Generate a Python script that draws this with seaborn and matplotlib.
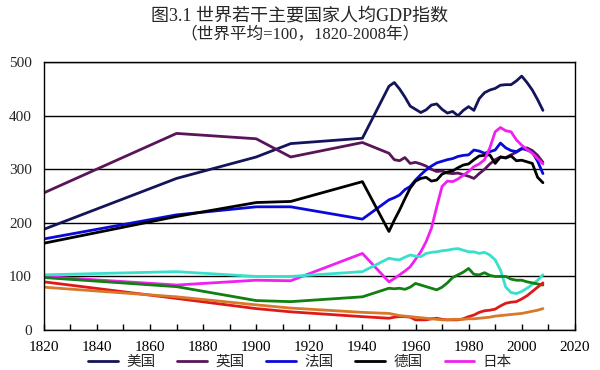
import pandas as pd
import seaborn as sns
import matplotlib
matplotlib.use("Agg")
from matplotlib import pyplot as plt
from matplotlib.ticker import MultipleLocator

# years: benchmark years, then every 2 years from 1950
years = [1820, 1870, 1900, 1913, 1940,
         1950, 1952, 1954, 1956, 1958, 1960, 1962, 1964, 1966, 1968,
         1970, 1972, 1974, 1976, 1978, 1980, 1982, 1984, 1986, 1988,
         1990, 1992, 1994, 1996, 1998, 2000, 2002, 2004, 2006, 2008]

usa = [188, 283, 323, 348, 358,
       455, 462, 450, 435, 418, 412, 406, 411, 420, 422,
       412, 405, 408, 400, 410, 417, 410, 432, 443, 448,
       451, 457, 458, 458, 465, 474, 462, 448, 430, 410]
uk = [256, 367, 357, 323, 350,
      330, 318, 316, 322, 311, 313, 310, 306, 300, 296,
      297, 293, 292, 293, 290, 287, 283, 292, 300, 310,
      318, 323, 322, 327, 332, 338, 340, 335, 326, 313]
france = [170, 215, 230, 230, 207,
          243, 247, 252, 262, 268, 280, 290, 299, 306, 312,
          315, 318, 320, 324, 326, 327, 336, 334, 330, 333,
          336, 349, 340, 335, 333, 339, 336, 332, 315, 292]
germany = [162, 212, 238, 240, 277,
           184, 205, 224, 245, 265, 278, 283, 285, 278, 280,
           291, 295, 297, 303, 308, 310, 318, 325, 326, 327,
           311, 323, 321, 325, 316, 317, 314, 311, 285, 275]
japan = [100, 84, 93, 92, 143,
         90, 96, 103, 110, 118, 132, 146, 165, 190, 230,
         268, 278, 277, 282, 289, 296, 305, 310, 318, 340,
         370, 378, 372, 370, 355, 345, 337, 330, 320, 310]
ussr = [103, 109, 100, 100, 109,
        134, 132, 131, 136, 140, 138, 137, 143, 145, 146,
        148, 149, 151, 152, 149, 146, 146, 143, 145, 140,
        131, 112, 80, 70, 68, 72, 78, 85, 93, 103]
brazil = [98, 81, 55, 53, 62,
          78, 77, 78, 76, 80, 87, 84, 81, 78, 75,
          80, 88, 98, 103, 108, 115, 104, 103, 107, 102,
          100, 100, 100, 95, 93, 93, 90, 88, 86, 84]
china = [90, 59, 40, 34, 25,
         22, 24, 25, 25, 24, 19, 19, 19, 21, 22,
         20, 19, 19, 19, 21, 25, 28, 33, 36, 37,
         39, 45, 50, 52, 53, 58, 64, 72, 80, 88]
india = [80, 62, 47, 41, 33,
         31, 29, 27, 26, 25, 24, 23, 22, 21, 20,
         19, 19, 20, 20, 20, 21, 21, 22, 23, 24,
         26, 27, 28, 29, 30, 31, 33, 35, 37, 40]

names = ["美国", "英国", "法国", "德国", "日本", "前苏联", "巴西", "中国", "印度"]
series = [usa, uk, france, germany, japan, ussr, brazil, china, india]
colors = ["#14145a", "#5a145a", "#0a0ad8", "#000000", "#f020f0",
          "#38e0cc", "#108010", "#e01818", "#d8782a"]

rows = []
for name, vals in zip(names, series):
    for yr, v in zip(years, vals):
        rows.append((name, yr, v))
df = pd.DataFrame(rows, columns=["country", "year", "value"])

sns.set_style("white")
plt.rcParams["font.family"] = ["Liberation Serif", "Noto Sans CJK SC"]

fig = plt.figure(figsize=(6, 3.7), dpi=100)
ax = fig.add_axes([0.073, 0.108, 0.885, 0.724])

sns.lineplot(data=df, x="year", y="value", hue="country", hue_order=names,
             palette=dict(zip(names, colors)), linewidth=2, ax=ax)

ax.set_xlim(1820, 2020)
ax.set_ylim(0, 500)
ax.xaxis.set_major_locator(MultipleLocator(20))
ax.xaxis.set_minor_locator(MultipleLocator(10))
ax.yaxis.set_major_locator(MultipleLocator(100))
ax.tick_params(axis="x", which="both", direction="in", length=4, width=1,
               bottom=True, labelsize=11, colors="black", pad=8)
ax.tick_params(axis="y", left=False, labelsize=11, pad=5)
ax.grid(axis="y", color="black", linewidth=1)
ax.set_axisbelow(True)
for s in ax.spines.values():
    s.set_color("black")
    s.set_linewidth(1)
ax.set_xlabel("")
ax.set_ylabel("")

# only the first legend row is visible in the original
handles, labels = ax.get_legend_handles_labels()
ax.get_legend().remove()
fig.legend(handles[:5], labels[:5], loc="lower center", bbox_to_anchor=(0.5, -0.012),
           ncol=5, frameon=False, handlelength=2.0, handletextpad=0.6,
           columnspacing=1.5, borderaxespad=0,
           prop={"family": ["Liberation Serif", "Noto Sans CJK SC"], "size": 10.5})

fig.text(0.5, 0.958, "图3.1 世界若干主要国家人均GDP指数", ha="center", va="center",
         fontsize=13, fontweight="medium")
fig.text(0.5, 0.906, "（世界平均=100，1820-2008年）", ha="center", va="center",
         fontsize=12)

fig.savefig("out.png", dpi=100)
